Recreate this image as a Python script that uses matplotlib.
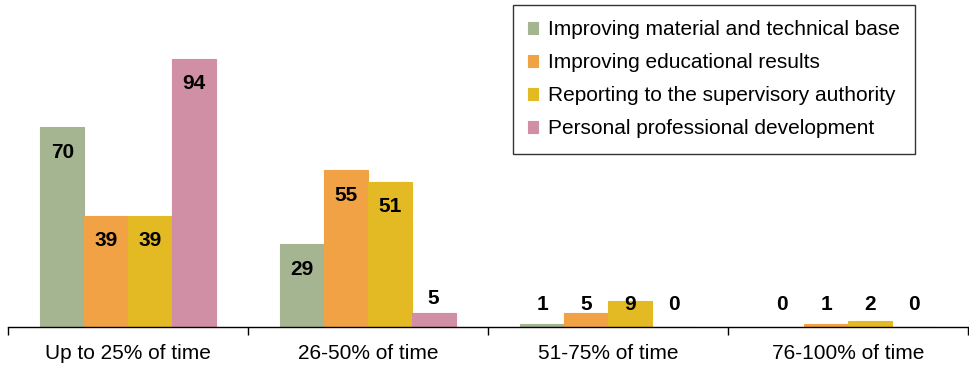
import numpy as np
import matplotlib.pyplot as plt

plt.rcParams['font.family'] = ['Liberation Sans', 'DejaVu Sans']

categories = ['Up to 25% of time', '26-50% of time', '51-75% of time', '76-100% of time']
series = ['Improving material and technical base',
          'Improving educational results',
          'Reporting to the supervisory authority',
          'Personal professional development']
material = [70, 29, 1, 0]
educational = [39, 55, 5, 1]
reporting = [39, 51, 9, 2]
personal = [94, 5, 0, 0]
colors = ['#a5b591', '#f0a245', '#e3b924', '#d18fa6']

values = [material, educational, reporting, personal]

fig = plt.figure(figsize=(9.69, 3.69), dpi=100)
ax = fig.add_axes([8 / 969, 42 / 369, 960 / 969, 327 / 369])

x = np.arange(len(categories))
bw = 0.73 / 4
for si, (vals, col, name) in enumerate(zip(values, colors, series)):
    pos = x - 0.365 + bw * (si + 0.5)
    ax.bar(pos, vals, width=bw, color=col, edgecolor=col, linewidth=0.8, label=name)
    for ci, v in enumerate(vals):
        # big bars get the value inside the top, small ones just above
        if v > 20:
            ly = v - 8.7
        else:
            ly = 10 if ci == 1 else 8
        ax.text(pos[ci], ly, str(v), ha='center', va='center',
                fontsize=15, fontweight='bold', color='black')

ax.set_xlim(-0.5, len(categories) - 0.5)
ax.set_ylim(0, 114.7)
for s in ['top', 'left', 'right']:
    ax.spines[s].set_visible(False)
ax.spines['bottom'].set_linewidth(1.0)
ax.set_yticks([])

ax.set_xticks(x)
ax.set_xticklabels(categories, fontsize=15)
ax.tick_params(axis='x', which='major', length=0, pad=12)
ax.set_xticks(np.arange(len(categories) + 1) - 0.5, minor=True)
ax.tick_params(axis='x', which='minor', length=6, width=1.0, direction='out')

leg = ax.legend(loc='upper right', bbox_to_anchor=(907 / 960, 1 - 5 / 327),
                fontsize=15, frameon=True, fancybox=False, handlelength=0.5,
                handleheight=0.5, handletextpad=0.45, labelspacing=0.67,
                borderpad=0.74, borderaxespad=0)
leg.get_frame().set_edgecolor('black')
leg.get_frame().set_linewidth(1.0)

fig.savefig('out.png', dpi=100)
